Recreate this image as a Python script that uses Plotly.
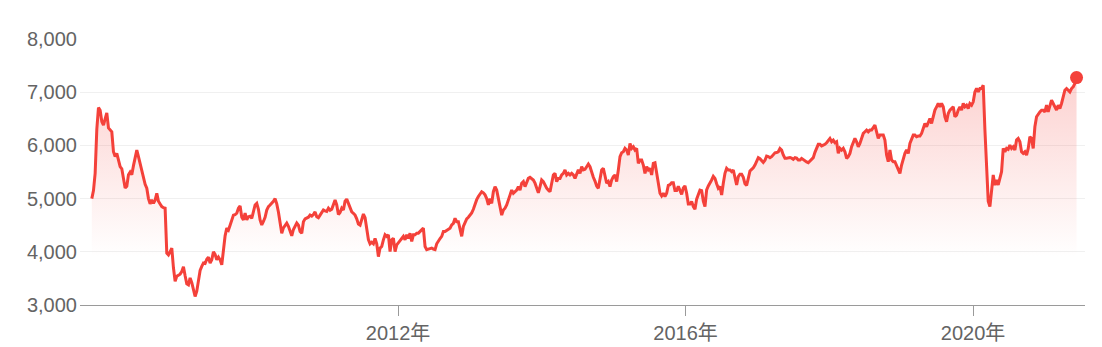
import pandas as pd
import plotly.graph_objects as go

# Index level (evenly spaced samples, late Sep 2007 -> Jun 2021)
values_2007_2009 = [
    5000, 5150, 5475, 6300, 6712, 6660, 6450, 6380, 6500, 6610, 6330, 6290, 6255, 5880, 5790,
    5850, 5695, 5600, 5560, 5400, 5200, 5230, 5450, 5500, 5450, 5620, 5780, 5910, 5790, 5650,
    5530, 5400, 5270, 5195, 5000, 4900, 4975, 4910, 4970, 5100, 4950, 4900, 4850, 4830, 4820,
    3975, 3940, 4000, 4070, 3700, 3445, 3540, 3560, 3580, 3630, 3720, 3550, 3400, 3380, 3510,
    3420, 3300, 3160, 3260, 3480, 3650, 3725, 3790, 3780, 3860, 3900,
]
values_2009_2011 = [
    3790, 3850, 4000, 3950, 3850, 3900, 3850, 3755, 4050, 4300, 4445, 4410, 4500, 4600, 4690,
    4700, 4725, 4820, 4860, 4650, 4600, 4725, 4600, 4660, 4670, 4630, 4785, 4880, 4910, 4800,
    4600, 4505, 4570, 4650, 4785, 4850, 4880, 4910, 4950, 5000, 4900, 4750, 4565, 4350, 4450,
    4490, 4540, 4480, 4380, 4300, 4420, 4475, 4540, 4500, 4380, 4350, 4565, 4620, 4640, 4650,
    4690, 4670, 4700, 4750, 4660, 4640, 4690, 4740, 4785, 4770, 4760, 4820, 4780, 4800, 4880,
]
values_2011_2012 = [
    4975, 4880, 4700, 4740, 4820, 4785, 4950, 4990, 4900, 4820, 4750, 4725, 4690, 4620, 4520,
    4500, 4600, 4710, 4640, 4450, 4230, 4150, 4180, 4150, 4250, 4150, 3910, 4070, 4100, 4225,
    4320, 4290, 4320, 4005, 4225, 4255, 4005, 4130, 4180, 4210, 4250, 4290, 4225, 4320, 4255,
    4350, 4195, 4320, 4320, 4350, 4350, 4380, 4410, 4445, 4100, 4040, 4050, 4060, 4070, 4050,
    4040, 4150, 4210, 4250, 4290, 4380, 4380, 4400, 4420, 4445, 4505, 4535, 4630, 4565, 4565,
]
values_2012_2014 = [
    4445, 4290, 4475, 4565, 4620, 4650, 4690, 4730, 4800, 4910, 4980, 5040, 5090, 5130, 5110,
    5070, 5000, 4880, 5000, 4910, 5130, 5225, 5160, 5000, 4785, 4690, 4785, 4820, 4880, 4975,
    5040, 5160, 5100, 5130, 5160, 5225, 5160, 5290, 5320, 5225, 5290, 5380, 5400, 5380, 5350,
    5290, 5195, 5110, 5225, 5350, 5320, 5255, 5195, 5160, 5130, 5290, 5445, 5475, 5320, 5380,
    5380, 5445, 5475, 5540, 5445, 5475, 5445, 5475, 5445, 5380, 5475, 5540, 5475, 5600, 5540,
]
values_2014_2016 = [
    5550, 5600, 5650, 5600, 5475, 5400, 5330, 5238, 5194, 5350, 5538, 5570, 5444, 5288, 5320,
    5225, 5350, 5413, 5444, 5320, 5538, 5788, 5863, 5881, 5944, 5913, 5819, 6038, 5944, 5975,
    5913, 5944, 5663, 5725, 5725, 5631, 5475, 5600, 5538, 5570, 5444, 5663, 5675, 5500, 5300,
    5100, 5050, 5100, 5038, 5100, 5250, 5260, 5300, 5300, 5150, 5150, 5230, 5150, 5080, 5200,
    5240, 5100, 4900, 4900, 4944, 4850, 4800, 4990, 5100, 5160, 5150, 4950, 4850, 5163, 5238,
]
values_2016_2017 = [
    5288, 5350, 5420, 5380, 5280, 5194, 5225, 5069, 5288, 5475, 5570, 5538, 5538, 5506, 5538,
    5381, 5256, 5413, 5460, 5460, 5400, 5280, 5250, 5380, 5520, 5550, 5580, 5631, 5700, 5770,
    5750, 5710, 5680, 5720, 5800, 5790, 5770, 5788, 5820, 5860, 5865, 5880, 5940, 5910, 5820,
    5760, 5760, 5770, 5770, 5760, 5740, 5770, 5760, 5725, 5725, 5756, 5730, 5710, 5690, 5675,
    5710, 5725, 5770, 5870, 5940, 6020, 6020, 5990, 6006, 6020, 6050, 6100, 6131, 6069, 6100,
]
values_2017_2019 = [
    6050, 6069, 5850, 5944, 5913, 5944, 5881, 5756, 5788, 5850, 5975, 6069, 6131, 6069, 5975,
    6038, 6131, 6225, 6256, 6288, 6256, 6288, 6288, 6350, 6381, 6256, 6131, 6194, 6194, 6194,
    6100, 5819, 5694, 5913, 5725, 5694, 5694, 5631, 5538, 5475, 5631, 5756, 5850, 5913, 5850,
    6038, 6131, 6194, 6194, 6163, 6175, 6175, 6225, 6319, 6413, 6350, 6413, 6506, 6413, 6569,
    6663, 6725, 6788, 6725, 6788, 6725, 6538, 6444, 6600, 6663, 6694, 6725, 6538, 6569, 6663,
]
values_2019_2021 = [
    6725, 6663, 6788, 6725, 6756, 6694, 6788, 6756, 6819, 7006, 7069, 7006, 7069, 7069, 7131,
    6300, 5750, 4950, 4850, 5100, 5444, 5256, 5350, 5256, 5381, 5506, 5944, 5881, 5944, 5925,
    6006, 5944, 5975, 5913, 6100, 6131, 6069, 5881, 5850, 5881, 5819, 5944, 6163, 6131, 5944,
    6350, 6538, 6600, 6631, 6663, 6663, 6631, 6756, 6631, 6725, 6850, 6788, 6725, 6663, 6756,
    6694, 6788, 6944, 7038, 7069, 7038, 7006, 7069, 7100, 7163, 7275,
]
values = (values_2007_2009 + values_2009_2011 + values_2011_2012 + values_2012_2014
          + values_2014_2016 + values_2016_2017 + values_2017_2019 + values_2019_2021)

first_date = "2007-09-28"
last_date = "2021-06-10"
x_range = ["2007-07-30", "2021-07-23"]
y_range = [3000, 8000]
y_ticks = [3000, 4000, 5000, 6000, 7000, 8000]
x_tick_dates = ["2012-01-01", "2016-01-01", "2020-01-01"]
x_tick_labels = ["2012年", "2016年", "2020年"]

dates = pd.date_range(first_date, last_date, periods=len(values))

RED = "#f4413a"
FONT = "Arial, 'Liberation Sans', 'Noto Sans CJK SC', sans-serif"
LABEL = "#646464"

fig = go.Figure()
fig.add_trace(go.Scatter(
    x=dates, y=values, mode="lines",
    line=dict(color=RED, width=3),
    fill="tozeroy",
    fillgradient=dict(
        type="vertical",
        start=3900, stop=7300,
        colorscale=[[0, "rgba(244,65,58,0)"], [1, "rgba(244,65,58,0.24)"]],
    ),
    hoverinfo="skip", showlegend=False,
))
fig.add_trace(go.Scatter(
    x=[dates[-1]], y=[values[-1]], mode="markers",
    marker=dict(color=RED, size=13),
    hoverinfo="skip", showlegend=False,
))

fig.update_layout(
    width=1102, height=347,
    margin=dict(l=80, r=17, t=39, b=42, autoexpand=False),
    paper_bgcolor="white", plot_bgcolor="white",
    font=dict(family=FONT, size=20, color=LABEL),
)
fig.update_xaxes(
    type="date", range=x_range, automargin=False,
    tickvals=x_tick_dates, ticktext=x_tick_labels,
    showgrid=False, zeroline=False,
    showline=True, linecolor="#9a9a9a", linewidth=1,
    ticks="outside", ticklen=10, tickcolor="#9a9a9a", tickwidth=1,
    tickfont=dict(family=FONT, size=20, color=LABEL),
)
fig.update_yaxes(
    range=y_range, tickvals=y_ticks, tickformat=",d", automargin=False,
    showgrid=True, gridcolor="#f0f0f0", gridwidth=1,
    zeroline=False, showline=False, ticks="",
    ticklabelstandoff=2,
    tickfont=dict(family=FONT, size=20, color=LABEL),
)

fig.write_html("out.html")
